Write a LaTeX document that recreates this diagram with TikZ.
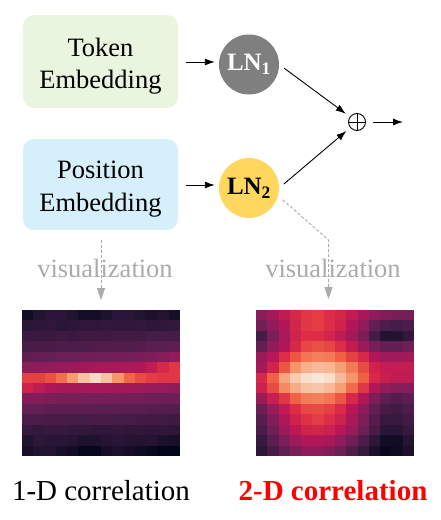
\documentclass[tikz,border=0pt]{standalone}
\usepackage{fontspec}
\setmainfont{Liberation Serif}
\usetikzlibrary{arrows.meta,calc}
\definecolor{rk0}{HTML}{03051A}
\definecolor{rk1}{HTML}{221331}
\definecolor{rk2}{HTML}{451C47}
\definecolor{rk3}{HTML}{6A1F56}
\definecolor{rk4}{HTML}{921C5B}
\definecolor{rk5}{HTML}{B91657}
\definecolor{rk6}{HTML}{DD2C45}
\definecolor{rk7}{HTML}{F06043}
\definecolor{rk8}{HTML}{F6956A}
\definecolor{rk9}{HTML}{F7C2A2}
\definecolor{rk10}{HTML}{FAEBDD}
\definecolor{tokfill}{HTML}{E9F5DE}
\definecolor{posfill}{HTML}{D5F0FA}
\definecolor{lnone}{HTML}{7F7F7F}
\definecolor{lntwo}{HTML}{FFD75F}
\definecolor{visgray}{HTML}{ABABAB}
\newcommand\myheatmap[3]{%
  \foreach \rowdata [count=\r from 0] in {#3} {
    \foreach \v [count=\c from 0] in \rowdata {
      \pgfmathtruncatemacro\rkseg{min(9,floor(\v*10))}
      \pgfmathtruncatemacro\rksegn{\rkseg+1}
      \pgfmathsetmacro\rkt{(\v*10-\rkseg)*100}
      \fill[rk\rksegn!\rkt!rk\rkseg] ({#1+\c*11.2857},{#2+\r*10.4286}) rectangle ++(11.35,10.5);
    }
  }
}
\tikzset{
  embbox/.style={rounded corners=11pt, minimum width=155pt, inner sep=0pt},
  embtext/.style={align=center, inner sep=0pt, font=\fontsize{26.5}{32.5}\selectfont},
  lnnode/.style={circle, minimum size=60pt, inner sep=0pt, font=\fontsize{25}{29}\selectfont},
  arr/.style={-{Latex[length=10pt,width=7pt]}, line width=0.9pt},
  dasharr/.style={draw=visgray, dash pattern=on 3pt off 2pt, line width=0.9pt,
    -{Triangle[length=12pt,width=8pt,fill=visgray,color=visgray]}},
  vislabel/.style={text=visgray, font=\fontsize{26.5}{30}\selectfont, anchor=base},
  corrlabel/.style={font=\fontsize{29}{33}\selectfont, anchor=base},
  hmarea/.style={minimum width=158pt, minimum height=146pt, inner sep=0pt, anchor=north west}
}
\begin{document}
\begin{tikzpicture}[x=1pt,y=-1pt]
\useasboundingbox (0,0) rectangle (441,520);
\fill[white] (0,0) rectangle (441,520);

\node[embbox, fill=tokfill, minimum height=93pt] (tok) at (100.5,61.5) {};
\node[embtext] (toktext) at ([yshift=-4.5pt]tok.center) {Token\\Embedding};
\node[embbox, fill=posfill, minimum height=91pt] (pos) at (100.5,184.5) {};
\node[embtext] (postext) at ([yshift=-4.5pt]pos.center) {Position\\Embedding};

\node[lnnode, fill=lnone, text=white] (ln1) at (249,64.5) {\textbf{LN}\textsubscript{\textbf{1}}};
\node[lnnode, fill=lntwo, text=black] (ln2) at (249,188) {\textbf{LN}\textsubscript{\textbf{2}}};

\node[circle, draw, minimum size=17pt, inner sep=0pt, line width=0.9pt,
  path picture={\draw[line width=0.9pt] (path picture bounding box.north) -- (path picture bounding box.south)
    (path picture bounding box.west) -- (path picture bounding box.east);}] (plus) at (357,122) {};
\coordinate (out) at (403,122);

\draw[arr, shorten <=8pt, shorten >=4pt] (tok.east |- 0,62) -- (ln1.west |- 0,62);
\draw[arr, shorten <=8pt, shorten >=4pt] (pos.east |- 0,185) -- (ln2.west |- 0,185);
\draw[arr, shorten <=6pt, shorten >=5pt] (ln1.east) -- (plus);
\draw[arr, shorten <=6pt, shorten >=5pt] (ln2.east) -- (plus);
\draw[arr, shorten <=7pt] (plus.east) -- (out);

% heatmaps
\node[hmarea] (hm1) at (22,310) {};
\node[hmarea] (hm2) at (256,310) {};
\myheatmap{22}{310}{
{0.05,0.10,0.12,0.12,0.10,0.06,0.06,0.09,0.12,0.12,0.10,0.08,0.10,0.06},
{0.12,0.13,0.14,0.12,0.13,0.14,0.14,0.15,0.14,0.14,0.15,0.13,0.14,0.15},
{0.17,0.17,0.17,0.18,0.17,0.18,0.18,0.18,0.19,0.19,0.19,0.20,0.20,0.20},
{0.20,0.21,0.21,0.22,0.22,0.22,0.23,0.23,0.23,0.23,0.24,0.25,0.26,0.27},
{0.27,0.28,0.29,0.30,0.30,0.31,0.31,0.32,0.32,0.33,0.34,0.35,0.37,0.40},
{0.38,0.39,0.40,0.41,0.42,0.44,0.45,0.46,0.46,0.47,0.48,0.52,0.58,0.62},
{0.64,0.64,0.67,0.73,0.81,0.90,0.96,0.90,0.80,0.71,0.66,0.63,0.62,0.62},
{0.56,0.52,0.48,0.46,0.45,0.45,0.46,0.45,0.44,0.44,0.43,0.42,0.41,0.40},
{0.36,0.36,0.35,0.34,0.34,0.33,0.33,0.33,0.33,0.32,0.32,0.31,0.30,0.30},
{0.28,0.28,0.27,0.27,0.27,0.27,0.26,0.26,0.26,0.25,0.25,0.24,0.24,0.24},
{0.22,0.22,0.21,0.21,0.21,0.20,0.21,0.21,0.20,0.20,0.19,0.19,0.19,0.18},
{0.16,0.15,0.16,0.16,0.15,0.15,0.14,0.14,0.15,0.14,0.14,0.13,0.14,0.13},
{0.10,0.13,0.12,0.12,0.11,0.09,0.09,0.11,0.12,0.11,0.10,0.11,0.08,0.07},
{0.07,0.10,0.10,0.07,0.05,0.01,0.01,0.06,0.08,0.06,0.04,0.02,0.00,0.00}}
\myheatmap{256}{310}{
{0.38,0.45,0.52,0.58,0.62,0.63,0.60,0.57,0.52,0.46,0.40,0.36,0.34,0.34},
{0.32,0.40,0.48,0.57,0.62,0.63,0.60,0.56,0.48,0.40,0.28,0.22,0.20,0.22},
{0.20,0.34,0.46,0.56,0.60,0.60,0.57,0.52,0.44,0.34,0.20,0.10,0.10,0.15},
{0.28,0.40,0.48,0.58,0.65,0.67,0.65,0.60,0.52,0.42,0.33,0.28,0.28,0.31},
{0.42,0.50,0.60,0.68,0.74,0.76,0.75,0.70,0.64,0.58,0.48,0.43,0.43,0.45},
{0.45,0.56,0.68,0.80,0.86,0.88,0.87,0.82,0.75,0.66,0.56,0.53,0.53,0.53},
{0.58,0.70,0.84,0.92,0.97,0.99,0.97,0.88,0.80,0.70,0.58,0.54,0.52,0.52},
{0.55,0.66,0.78,0.85,0.90,0.91,0.88,0.82,0.72,0.62,0.48,0.40,0.37,0.37},
{0.42,0.54,0.62,0.70,0.75,0.76,0.74,0.68,0.58,0.48,0.35,0.27,0.24,0.27},
{0.30,0.42,0.52,0.60,0.65,0.66,0.64,0.59,0.50,0.39,0.28,0.21,0.19,0.22},
{0.25,0.36,0.48,0.56,0.61,0.63,0.60,0.55,0.46,0.35,0.24,0.16,0.16,0.19},
{0.22,0.32,0.43,0.51,0.56,0.57,0.55,0.50,0.42,0.31,0.21,0.12,0.12,0.16},
{0.17,0.26,0.35,0.43,0.48,0.48,0.46,0.40,0.32,0.22,0.13,0.05,0.05,0.11},
{0.13,0.20,0.28,0.34,0.39,0.39,0.36,0.31,0.23,0.16,0.08,0.02,0.04,0.08}}

% visualization labels and dashed arrows
\node[vislabel] (vis1) at (105,277) {visualization};
\node[vislabel] (vis2) at (333,277) {visualization};
\coordinate (bend) at (328.5,240);
\draw[dasharr, shorten <=10pt, shorten >=10pt] (pos.south -| 101,0) -- (hm1.north -| 101,0);
\draw[dasharr, shorten <=6pt, shorten >=11pt] (ln2.-15) -- (bend) -- (hm2.north -| bend);

% correlation labels
\node[corrlabel] (c1) at (101,500) {1-D correlation};
\node[corrlabel, text=red] (c2) at (333,500) {\textbf{2-D correlation}};
\end{tikzpicture}
\end{document}
